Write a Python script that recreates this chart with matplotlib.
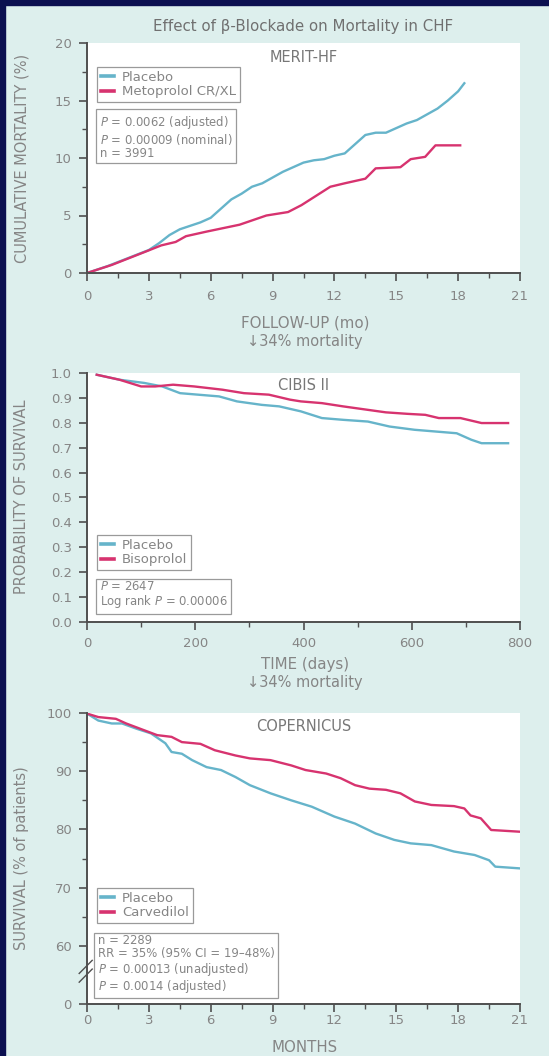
import matplotlib.pyplot as plt
from matplotlib.patches import Rectangle
from matplotlib.ticker import MultipleLocator, FixedLocator

plt.rcParams['font.family'] = ['DejaVu Sans']
plt.rcParams['mathtext.fontset'] = 'dejavusans'

#--- MERIT-HF (months, cumulative mortality %)
merit_placebo_x = [0, 1, 2, 3, 3.5, 4, 4.5, 5, 5.5, 6, 6.5, 7, 7.5, 8, 8.5, 9, 9.5, 10, 10.5, 11,
                   11.5, 12, 12.5, 13, 13.5, 14, 14.5, 15, 15.5, 16, 16.5, 17, 17.5, 18, 18.3]
merit_placebo_y = [0, 0.6, 1.3, 2.0, 2.6, 3.3, 3.8, 4.1, 4.4, 4.8, 5.6, 6.4, 6.9, 7.5, 7.8, 8.3, 8.8, 9.2, 9.6, 9.8,
                   9.9, 10.2, 10.4, 11.2, 12.0, 12.2, 12.2, 12.6, 13.0, 13.3, 13.8, 14.3, 15.0, 15.8, 16.5]
merit_meto_x = [0, 1.2, 2.9, 3.6, 4.3, 4.8, 5.8, 7.4, 8.7, 9.75, 10.4, 11.8, 12.5, 13.5, 14.0, 15.2,
                15.7, 16.4, 16.9, 18.1]
merit_meto_y = [0, 0.7, 1.9, 2.4, 2.7, 3.2, 3.6, 4.2, 5.0, 5.3, 5.9, 7.5, 7.8, 8.2, 9.1, 9.2,
                9.9, 10.1, 11.1, 11.1]

#--- CIBIS II (days, probability of survival)
cibis_placebo_x = [18, 60, 106, 139, 172, 205, 244, 277, 323, 355, 395, 434, 473, 519, 559, 605,
                   644, 683, 710, 729, 778]
cibis_placebo_y = [0.993, 0.973, 0.960, 0.946, 0.919, 0.913, 0.906, 0.886, 0.872, 0.866, 0.846, 0.819,
                   0.812, 0.805, 0.785, 0.772, 0.765, 0.758, 0.732, 0.718, 0.718]
cibis_biso_x = [18, 60, 100, 126, 159, 198, 250, 290, 336, 375, 395, 434, 473, 519, 552, 592,
                625, 650, 690, 729, 778]
cibis_biso_y = [0.993, 0.973, 0.946, 0.946, 0.953, 0.946, 0.933, 0.919, 0.913, 0.893, 0.886, 0.879,
                0.866, 0.852, 0.842, 0.836, 0.832, 0.819, 0.819, 0.799, 0.799]

#--- COPERNICUS (months, survival % of patients)
cop_placebo_x = [0, 0.55, 1.2, 1.7, 2.4, 3.1, 3.8, 4.1, 4.6, 5.1, 5.8, 6.5, 7.2, 7.9, 8.9, 9.9,
                 10.9, 12.0, 13.0, 14.0, 14.9, 15.7, 16.7, 17.8, 18.8, 19.5, 19.8, 21]
cop_placebo_y = [99.9, 98.7, 98.2, 98.2, 97.3, 96.5, 94.8, 93.3, 93.0, 91.9, 90.7, 90.2, 89.0, 87.6,
                 86.2, 85.0, 83.9, 82.2, 81.0, 79.3, 78.2, 77.6, 77.3, 76.2, 75.6, 74.7, 73.6, 73.3]
cop_carv_x = [0, 0.55, 1.4, 1.9, 2.8, 3.4, 4.1, 4.6, 5.5, 6.2, 7.2, 7.9, 8.9, 9.9, 10.6, 11.6,
              12.3, 13.0, 13.7, 14.5, 15.2, 15.9, 16.7, 17.8, 18.3, 18.6, 19.1, 19.6, 21]
cop_carv_y = [99.9, 99.3, 99.0, 98.2, 97.0, 96.2, 95.9, 95.0, 94.7, 93.6, 92.7, 92.2, 91.9, 91.0,
              90.2, 89.6, 88.8, 87.6, 87.0, 86.8, 86.2, 84.8, 84.2, 84.0, 83.6, 82.4, 81.9, 79.9, 79.6]

# tick labels
month_ticks = [0, 3, 6, 9, 12, 15, 18, 21]
day_ticks = [0, 200, 400, 600, 800]
merit_yticks = [0, 5, 10, 15, 20]
cibis_yticks = [0.0, 0.1, 0.2, 0.3, 0.4, 0.5, 0.6, 0.7, 0.8, 0.9, 1.0]
cop_yticks = [50, 60, 70, 80, 90, 100]   # 50 is drawn as the broken-axis "0"
cop_ylabels = ["0", "60", "70", "80", "90", "100"]

BLUE = "#66b4ca"
PINK = "#d7336f"
AXC = "#4f4f4f"
TXT = "#858585"
BG = "#ddefed"

W, H = 549, 1056
fig = plt.figure(figsize=(W / 100, H / 100), dpi=100, facecolor=BG)
fig.patches.append(Rectangle((0, 0), 5 / W, 1, transform=fig.transFigure, color="#0b1050", zorder=5))
fig.patches.append(Rectangle((0, 1 - 5 / H), 1, 5 / H, transform=fig.transFigure, color="#0b1050", zorder=5))


def make_axes(top, bottom):
    left, right = 87, 520
    ax = fig.add_axes([left / W, 1 - bottom / H, (right - left) / W, (bottom - top) / H])
    ax.set_facecolor("white")
    for s in ["top", "right"]:
        ax.spines[s].set_visible(False)
    for s in ["left", "bottom"]:
        ax.spines[s].set_color(AXC)
        ax.spines[s].set_linewidth(1.4)
    ax.tick_params(which="major", direction="out", length=6, width=1.2, color=AXC,
                   labelcolor=TXT, labelsize=9.5)
    ax.tick_params(which="minor", direction="out", length=3.5, width=1.0, color=AXC)
    return ax


def stats_box(ax, x, y, text):
    ax.text(x, y, text, transform=ax.transAxes, ha="left", va="top", fontsize=8.4,
            color=TXT, linespacing=1.02,
            bbox=dict(boxstyle="square,pad=0.3", fc="white", ec="#9a9a9a", lw=0.9))


def legend(ax, x, y):
    leg = ax.legend(loc="upper left", bbox_to_anchor=(x, y), borderaxespad=0, frameon=True,
                    fancybox=False, edgecolor="#9a9a9a", framealpha=1, fontsize=9.5,
                    handlelength=1.0, handletextpad=0.6, labelspacing=0.1, borderpad=0.3)
    leg.get_frame().set_linewidth(0.9)
    for t in leg.get_texts():
        t.set_color(TXT)
    for h in leg.get_lines():
        h.set_linewidth(2.6)


def fig_text(x, y, s, color=TXT, **kw):
    fig.text(x / W, 1 - y / H, s, ha="center", va="center", color=color, **kw)


fig_text(303, 27, "Effect of \u03b2-Blockade on Mortality in CHF", fontsize=10.8, color="#707070")

#--- Panel 1: MERIT-HF
ax1 = make_axes(43, 273)
ax1.plot(merit_placebo_x, merit_placebo_y, color=BLUE, lw=1.7, label="Placebo")
ax1.plot(merit_meto_x, merit_meto_y, color=PINK, lw=1.7, label="Metoprolol CR/XL")
ax1.set_xlim(0, 21)
ax1.set_ylim(0, 20)
ax1.set_xticks(month_ticks)
ax1.set_yticks(merit_yticks)
ax1.xaxis.set_minor_locator(MultipleLocator(1.5))
ax1.yaxis.set_minor_locator(MultipleLocator(2.5))
ax1.tick_params(axis="x", which="major", pad=6.5)
ax1.tick_params(axis="y", which="major", pad=5)
ax1.text(0.5, 0.935, "MERIT-HF", transform=ax1.transAxes, ha="center", va="center",
         fontsize=10.5, color="#777777")
legend(ax1, 0.023, 0.896)
stats_box(ax1, 0.03, 0.69, "$P$ = 0.0062 (adjusted)\n$P$ = 0.00009 (nominal)\nn = 3991")
fig_text(22, 158, "CUMULATIVE MORTALITY (%)", fontsize=10.5, rotation=90)
fig_text(305, 323, "FOLLOW-UP (mo)", fontsize=10.8)
fig_text(305, 341, "\u219334% mortality", fontsize=10.5)

#--- Panel 2: CIBIS II
ax2 = make_axes(373, 622)
ax2.plot(cibis_placebo_x, cibis_placebo_y, color=BLUE, lw=1.7, label="Placebo")
ax2.plot(cibis_biso_x, cibis_biso_y, color=PINK, lw=1.7, label="Bisoprolol")
ax2.set_xlim(0, 800)
ax2.set_ylim(0, 1.0)
ax2.set_xticks(day_ticks)
ax2.set_yticks(cibis_yticks)
ax2.set_yticklabels([f"{v:.1f}" for v in cibis_yticks])
ax2.xaxis.set_minor_locator(MultipleLocator(100))
ax2.tick_params(axis="x", which="major", pad=5)
ax2.tick_params(axis="y", which="major", pad=5)
ax2.text(0.5, 0.948, "CIBIS II", transform=ax2.transAxes, ha="center", va="center",
         fontsize=10.5, color="#777777")
legend(ax2, 0.023, 0.349)
stats_box(ax2, 0.03, 0.168, "$P$ = 2647\nLog rank $P$ = 0.00006")
fig_text(22, 497, "PROBABILITY OF SURVIVAL", fontsize=10.5, rotation=90)
fig_text(305, 665, "TIME (days)", fontsize=10.8)
fig_text(305, 683, "\u219334% mortality", fontsize=10.5)

#--- Panel 3: COPERNICUS
ax3 = make_axes(713, 1004)
ax3.plot(cop_placebo_x, cop_placebo_y, color=BLUE, lw=1.7, label="Placebo")
ax3.plot(cop_carv_x, cop_carv_y, color=PINK, lw=1.7, label="Carvedilol")
ax3.set_xlim(0, 21)
ax3.set_ylim(50, 100)
ax3.set_xticks(month_ticks)
ax3.set_yticks(cop_yticks)
ax3.set_yticklabels(cop_ylabels)
ax3.xaxis.set_minor_locator(MultipleLocator(1.5))
ax3.yaxis.set_minor_locator(FixedLocator([65, 75, 85, 95]))
ax3.tick_params(axis="x", which="major", pad=1)
ax3.tick_params(axis="y", which="major", pad=5)
ax3.text(0.5, 0.952, "COPERNICUS", transform=ax3.transAxes, ha="center", va="center",
         fontsize=10.5, color="#777777")
legend(ax3, 0.023, 0.399)
stats_box(ax3, 0.025, 0.24, "n = 2289\nRR = 35% (95% CI = 19\u201348%)\n"
                            "$P$ = 0.00013 (unadjusted)\n$P$ = 0.0014 (adjusted)")
# axis break marks on the y axis
for off in (0.0, 0.03):
    ax3.plot([-0.018, 0.012], [0.075 + off, 0.12 + off], transform=ax3.transAxes,
             color=AXC, lw=1.0, clip_on=False)
fig_text(22, 858, "SURVIVAL (% of patients)", fontsize=10.5, rotation=90)
fig_text(305, 1048, "MONTHS", fontsize=10.8)

fig.savefig("out.png", dpi=100, facecolor=BG)
plt.close()
